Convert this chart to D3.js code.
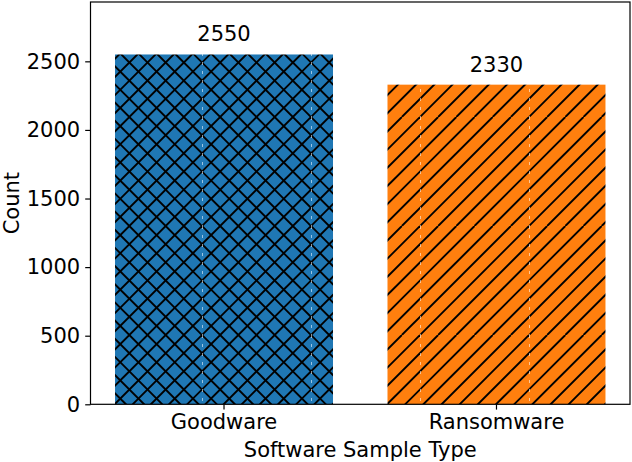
<!DOCTYPE html>
<html>
<head>
<meta charset="utf-8">
<script src="https://cdn.jsdelivr.net/npm/d3@7"></script>
<style>
  html, body { margin: 0; padding: 0; background: #fff; }
  svg text { font-family: "DejaVu Sans", sans-serif; fill: #000; }
</style>
</head>
<body>
<div id="chart"></div>
<script>
// data
const categories = ['Goodware', 'Ransomware'];
const counts = [2550, 2330];
const barColors = ['#1f77b4', '#ff7f0e'];
const hatches = ['x', '/'];
const yTicks = [0, 500, 1000, 1500, 2000, 2500];

const width = 632, height = 462;
const margin = { top: 2, right: 2, bottom: 57.7, left: 90.5 };
const fontSize = 21;

const svg = d3.select('#chart')
    .append('svg')
    .attr('width', width)
    .attr('height', height);

const x = d3.scaleBand()
    .domain(categories)
    .range([margin.left, width - margin.right])
    .paddingInner(0.2)
    .paddingOuter(0.09);

const y = d3.scaleLinear()
    .domain([0, d3.max(counts) * 1.15])
    .range([height - margin.bottom, margin.top]);

// hatch patterns (tile like matplotlib, 6 lines per tile)
const tile = 109, step = tile / 6;
const defs = svg.append('defs');
hatches.forEach((h, i) => {
    const p = defs.append('pattern')
        .attr('id', 'hatch' + i)
        .attr('patternUnits', 'userSpaceOnUse')
        .attr('x', 93).attr('y', 8)
        .attr('width', tile).attr('height', tile);
    p.append('rect')
        .attr('width', tile).attr('height', tile)
        .attr('fill', barColors[i]);
    // slash lines
    d3.range(0, 13).forEach(k => {
        p.append('line')
            .attr('x1', k * step).attr('y1', 0)
            .attr('x2', k * step - tile).attr('y2', tile)
            .attr('stroke', '#000').attr('stroke-width', 1.9);
    });
    if (h === 'x') {
        d3.range(-6, 7).forEach(k => {
            p.append('line')
                .attr('x1', k * step).attr('y1', 0)
                .attr('x2', k * step + tile).attr('y2', tile)
                .attr('stroke', '#000').attr('stroke-width', 1.9);
        });
    }
    // faint seam at the tile edge
    p.append('line')
        .attr('x1', 0.4).attr('y1', 0)
        .attr('x2', 0.4).attr('y2', tile)
        .attr('stroke', '#fff').attr('stroke-width', 0.8)
        .attr('stroke-opacity', 0.8)
        .attr('stroke-dasharray', '3,6');
});

// bars
svg.selectAll('rect.bar')
    .data(counts)
    .enter()
    .append('rect')
    .attr('class', 'bar')
    .attr('x', (d, i) => x(categories[i]))
    .attr('y', d => y(d))
    .attr('width', x.bandwidth())
    .attr('height', d => y(0) - y(d))
    .attr('fill', (d, i) => `url(#hatch${i})`);

// value labels
svg.selectAll('text.value')
    .data(counts)
    .enter()
    .append('text')
    .attr('class', 'value')
    .attr('x', (d, i) => x(categories[i]) + x.bandwidth() / 2)
    .attr('y', d => y(d) - 13)
    .attr('text-anchor', 'middle')
    .style('font-size', fontSize + 'px')
    .text(d => d);

// axes
const yAxis = d3.axisLeft(y)
    .tickValues(yTicks)
    .tickSize(5.3)
    .tickPadding(5)
    .tickFormat(d3.format('d'));
const xAxis = d3.axisBottom(x)
    .tickSize(5.3)
    .tickPadding(4);

const gy = svg.append('g')
    .attr('transform', `translate(${margin.left},0)`)
    .call(yAxis);
const gx = svg.append('g')
    .attr('transform', `translate(0,${height - margin.bottom})`)
    .call(xAxis);

[gx, gy].forEach(g => {
    g.select('.domain').remove();
    g.selectAll('line').attr('stroke', '#000').attr('stroke-width', 1.2);
    g.selectAll('text')
        .style('font-size', fontSize + 'px')
        .style('font-family', '"DejaVu Sans", sans-serif')
        .attr('fill', '#000');
});

// frame
svg.append('rect')
    .attr('x', margin.left)
    .attr('y', margin.top)
    .attr('width', width - margin.left - margin.right)
    .attr('height', height - margin.top - margin.bottom)
    .attr('fill', 'none')
    .attr('stroke', '#000')
    .attr('stroke-width', 1.2);

// axis titles
svg.append('text')
    .attr('x', (margin.left + width - margin.right) / 2)
    .attr('y', 456.7)
    .attr('text-anchor', 'middle')
    .style('font-size', fontSize + 'px')
    .text('Software Sample Type');

svg.append('text')
    .attr('transform', `translate(18.5,${(margin.top + height - margin.bottom) / 2}) rotate(-90)`)
    .attr('text-anchor', 'middle')
    .style('font-size', fontSize + 'px')
    .text('Count');
</script>
</body>
</html>
